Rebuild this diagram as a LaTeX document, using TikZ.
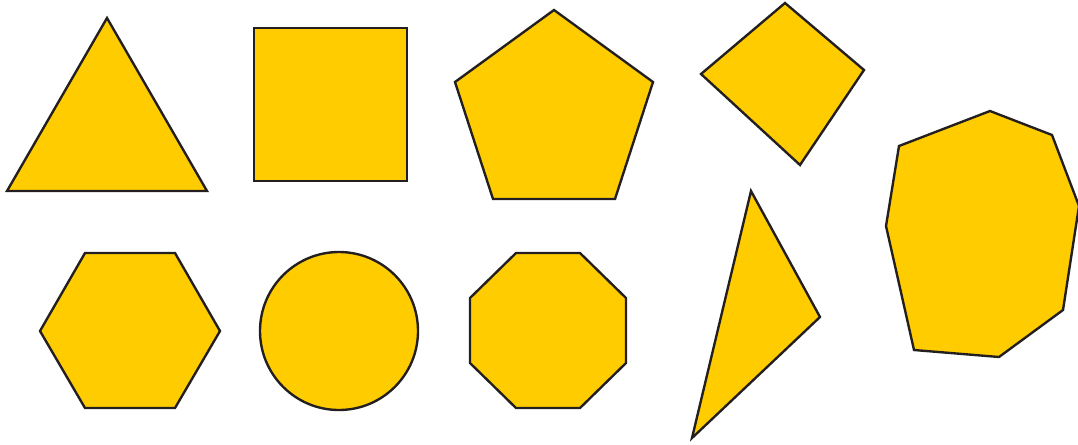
\documentclass[tikz,border=0pt]{standalone}
\usepackage{xcolor}
\usepackage{tikz}
\definecolor{shapeyellow}{HTML}{FFCC00}
\definecolor{shapeedge}{HTML}{231F20}
\tikzset{
  figure/.style={fill=shapeyellow, draw=shapeedge, line width=1.35pt, line join=miter},
}

\begin{document}
\begin{tikzpicture}[x=0.02cm, y=-0.02cm]
  \useasboundingbox (0,0) rectangle (1078,444);
  % top row
  \draw[figure] (107,18) -- (207,191) -- (7,191) -- cycle;
  \draw[figure] (254,28) rectangle (407,181);
  \draw[figure] (554,10) -- (653,82) -- (615,199) -- (493,199) -- (455,82) -- cycle;
  \draw[figure] (785,3) -- (864,70) -- (800,165) -- (701,74) -- cycle;
  % bottom row
  \draw[figure] (85,253) -- (175,253) -- (220,331) -- (175,408) -- (85,408) -- (40,331) -- cycle;
  \draw[figure] (339,331) circle[radius=79];
  \draw[figure] (516,253) -- (580,253) -- (626,298) -- (626,363) -- (580,408)
    -- (516,408) -- (470,363) -- (470,298) -- cycle;
  \draw[figure] (751,191) -- (820,317) -- (692,438) -- cycle;
  % irregular octagon on the right
  \draw[figure] (990,111) -- (1052,135) -- (1079,206) -- (1063,310) -- (999,357)
    -- (914,350) -- (886,226) -- (899,146) -- cycle;
\end{tikzpicture}
\end{document}
